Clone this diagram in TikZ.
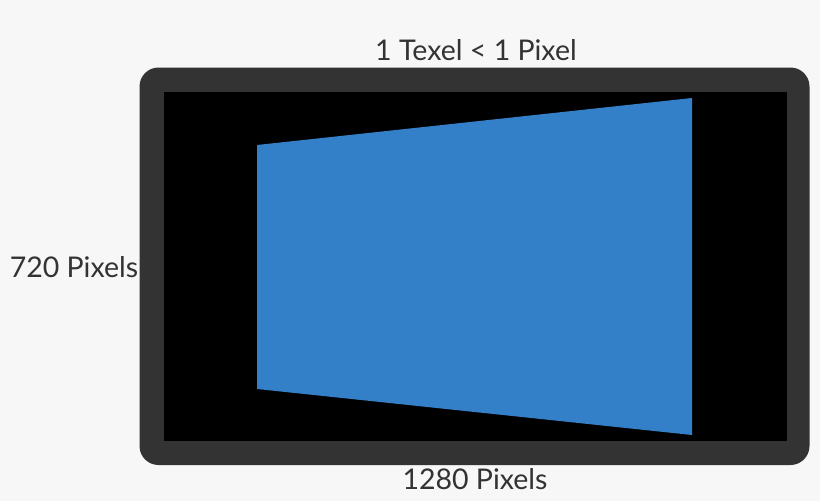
\documentclass[tikz,border=0pt]{standalone}
\usepackage{fontspec}
\setmainfont{Lato}
\definecolor{bggray}{HTML}{F7F7F7}
\definecolor{framegray}{HTML}{333333}
\definecolor{texelblue}{HTML}{337FC8}
\definecolor{labelgray}{HTML}{333333}
\begin{document}
\begin{tikzpicture}[x=1pt,y=-1pt]
\tikzstyle{pxlabel} = [text=labelgray, font=\fontsize{28.5}{32}\selectfont, inner sep=0pt]
\fill[bggray] (0,0) rectangle (820,501);
\useasboundingbox (0,0) rectangle (820,501);
% screen frame
\fill[framegray, rounded corners=19pt] (139.5,67.5) rectangle (809.5,465);
\fill[black] (164,92) rectangle (786.5,441);
% texture quad
\fill[texelblue] (257,145) -- (692,98) -- (692,435) -- (257,389) -- cycle;
\node (top) [pxlabel] at (476,50) {1 Texel < 1 Pixel};
\node (left) [pxlabel] at (74,267) {720 Pixels};
\node (bottom) [pxlabel] at (475,479) {1280 Pixels};
\end{tikzpicture}
\end{document}
